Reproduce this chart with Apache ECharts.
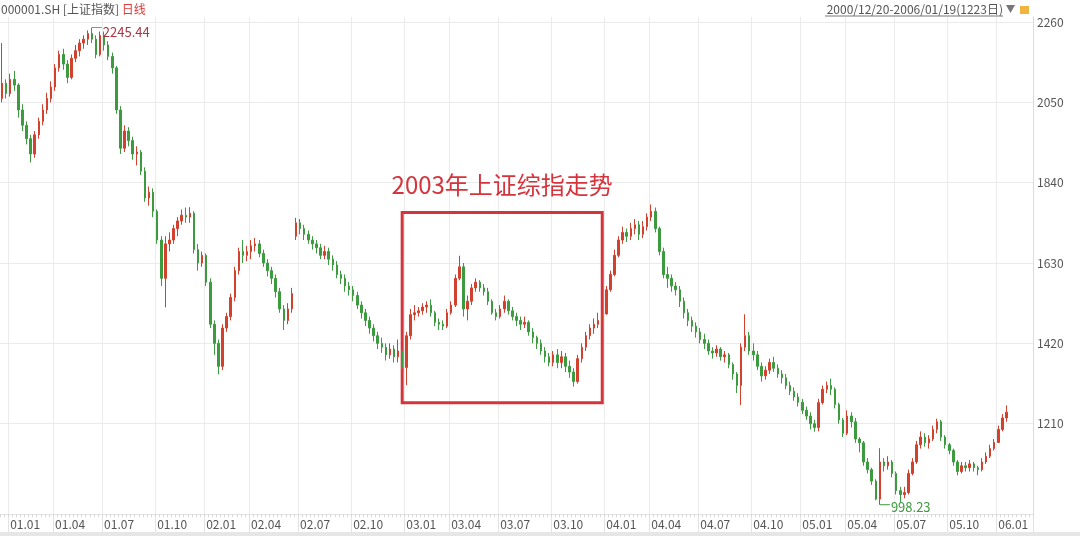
<!DOCTYPE html>
<html><head><meta charset="utf-8">
<script src="https://cdn.jsdelivr.net/npm/echarts@6/dist/echarts.min.js"></script>
<style>html,body{margin:0;padding:0;background:#fff}#c{width:1080px;height:536px}</style>
</head><body><div id="c"></div>
<script>
// Weekly candles (one row per quarter)
const dates = [
 '2000-12-20','2000-12-25',
 '2001-01-02','2001-01-08','2001-01-15','2001-02-05','2001-02-12','2001-02-19','2001-02-26','2001-03-05','2001-03-12','2001-03-19','2001-03-26',
 '2001-04-02','2001-04-09','2001-04-16','2001-04-23','2001-05-08','2001-05-14','2001-05-21','2001-05-28','2001-06-04','2001-06-11','2001-06-18','2001-06-25',
 '2001-07-02','2001-07-09','2001-07-16','2001-07-23','2001-07-30','2001-08-06','2001-08-13','2001-08-20','2001-08-27','2001-09-03','2001-09-10','2001-09-17','2001-09-24',
 '2001-10-08','2001-10-15','2001-10-22','2001-10-29','2001-11-05','2001-11-12','2001-11-19','2001-11-26','2001-12-03','2001-12-10','2001-12-17','2001-12-24',
 '2002-01-04','2002-01-07','2002-01-14','2002-01-21','2002-01-28','2002-02-04','2002-02-25','2002-03-04','2002-03-11','2002-03-18','2002-03-25',
 '2002-04-01','2002-04-08','2002-04-15','2002-04-22','2002-05-08','2002-05-13','2002-05-20','2002-05-27','2002-06-03','2002-06-10','2002-06-17','2002-06-24',
 '2002-07-01','2002-07-08','2002-07-15','2002-07-22','2002-07-29','2002-08-05','2002-08-12','2002-08-19','2002-08-26','2002-09-02','2002-09-09','2002-09-16','2002-09-23',
 '2002-10-08','2002-10-14','2002-10-21','2002-10-28','2002-11-04','2002-11-11','2002-11-18','2002-11-25','2002-12-02','2002-12-09','2002-12-16','2002-12-23','2002-12-30',
 '2003-01-02','2003-01-13','2003-01-20','2003-01-27','2003-02-10','2003-02-17','2003-02-24','2003-03-03','2003-03-10','2003-03-17','2003-03-24',
 '2003-04-01','2003-04-07','2003-04-14','2003-04-21','2003-04-28','2003-05-12','2003-05-19','2003-05-26','2003-06-02','2003-06-09','2003-06-16','2003-06-23',
 '2003-07-01','2003-07-07','2003-07-14','2003-07-21','2003-07-28','2003-08-04','2003-08-11','2003-08-18','2003-08-25','2003-09-01','2003-09-08','2003-09-15','2003-09-22',
 '2003-10-08','2003-10-13','2003-10-20','2003-10-27','2003-11-03','2003-11-10','2003-11-17','2003-11-24','2003-12-01','2003-12-08','2003-12-15','2003-12-22','2003-12-29',
 '2004-01-02','2004-01-12','2004-02-02','2004-02-09','2004-02-16','2004-02-23','2004-03-01','2004-03-08','2004-03-15','2004-03-22','2004-03-29',
 '2004-04-01','2004-04-12','2004-04-19','2004-04-26','2004-05-10','2004-05-17','2004-05-24','2004-05-31','2004-06-07','2004-06-14','2004-06-21','2004-06-28',
 '2004-07-01','2004-07-12','2004-07-19','2004-07-26','2004-08-02','2004-08-09','2004-08-16','2004-08-23','2004-08-30','2004-09-06','2004-09-13','2004-09-20','2004-09-27',
 '2004-10-08','2004-10-18','2004-10-25','2004-11-01','2004-11-08','2004-11-15','2004-11-22','2004-11-29','2004-12-06','2004-12-13','2004-12-20','2004-12-27',
 '2005-01-04','2005-01-10','2005-01-17','2005-01-24','2005-01-31','2005-02-21','2005-02-28','2005-03-07','2005-03-14','2005-03-21','2005-03-28',
 '2005-04-01','2005-04-11','2005-04-18','2005-04-25','2005-05-09','2005-05-16','2005-05-23','2005-05-30','2005-06-06','2005-06-13','2005-06-20','2005-06-27',
 '2005-07-01','2005-07-11','2005-07-18','2005-07-25','2005-08-01','2005-08-08','2005-08-15','2005-08-22','2005-08-29','2005-09-05','2005-09-12','2005-09-19','2005-09-26',
 '2005-10-10','2005-10-17','2005-10-24','2005-10-31','2005-11-07','2005-11-14','2005-11-21','2005-11-28','2005-12-05','2005-12-12','2005-12-19','2005-12-26',
 '2006-01-04','2006-01-09','2006-01-16'
];
const open = [
 2060,2100,
 2073,2110,2095,2030,1990,1955,1915,1965,2000,2030,2060,
 2090,2140,2175,2150,2115,2165,2185,2205,2215,2230,2215,2175,
 2225,2200,2170,2140,2030,1930,1975,1950,1915,1920,1870,1800,1815,
 1765,1690,1590,1680,1690,1720,1740,1755,1750,1760,1665,1630,
 1650,1580,1470,1420,1360,1460,1490,1540,1610,1660,1650,
 1660,1675,1680,1655,1630,1610,1590,1555,1510,1480,1510,1700,
 1735,1720,1705,1690,1680,1670,1650,1660,1640,1625,1600,1590,1570,
 1560,1545,1520,1500,1480,1460,1440,1420,1410,1390,1405,1385,1400,
 1357,1440,1495,1500,1505,1515,1520,1500,1475,1470,1465,
 1500,1520,1590,1620,1510,1530,1565,1580,1565,1555,1530,1500,
 1490,1510,1530,1505,1490,1480,1470,1475,1450,1435,1420,1400,1385,
 1370,1390,1370,1385,1360,1345,1320,1380,1410,1440,1460,1470,1480,
 1497,1560,1600,1650,1690,1710,1700,1720,1730,1705,1725,
 1750,1765,1720,1660,1600,1590,1570,1560,1530,1500,1480,1465,
 1450,1430,1420,1400,1395,1405,1385,1390,1365,1340,1310,1410,1440,
 1400,1390,1360,1335,1350,1370,1355,1340,1330,1310,1295,1280,
 1266,1245,1230,1210,1200,1265,1300,1310,1300,1260,1220,
 1185,1230,1215,1170,1160,1110,1090,1060,1013,1110,1100,1110,
 1080,1035,1025,1030,1080,1110,1155,1175,1160,1170,1195,1215,1175,
 1155,1140,1110,1085,1100,1095,1105,1095,1090,1110,1125,1145,
 1161,1195,1225
];
const close = [
 2100,2073,
 2110,2095,2030,1990,1955,1915,1965,2000,2030,2060,2090,
 2140,2175,2150,2115,2165,2185,2205,2215,2230,2215,2175,2225,
 2200,2170,2140,2030,1930,1975,1950,1915,1920,1870,1800,1815,1765,
 1690,1590,1680,1690,1720,1740,1755,1750,1760,1665,1630,1650,
 1580,1470,1420,1360,1460,1490,1540,1610,1660,1650,1660,
 1675,1680,1655,1630,1610,1590,1555,1510,1480,1510,1550,1735,
 1720,1705,1690,1680,1670,1650,1660,1640,1625,1600,1590,1570,1560,
 1545,1520,1500,1480,1460,1440,1420,1410,1390,1405,1385,1400,1357,
 1440,1495,1500,1505,1515,1520,1500,1475,1470,1465,1500,
 1520,1590,1620,1510,1530,1565,1580,1565,1555,1530,1500,1490,
 1510,1530,1505,1490,1480,1470,1475,1450,1435,1420,1400,1385,1370,
 1390,1370,1385,1360,1345,1320,1380,1410,1440,1460,1470,1480,1497,
 1560,1600,1650,1690,1710,1700,1720,1730,1705,1725,1750,
 1765,1720,1660,1600,1590,1570,1560,1530,1500,1480,1465,1450,
 1430,1420,1400,1395,1405,1385,1390,1365,1340,1310,1410,1440,1400,
 1390,1360,1335,1350,1370,1355,1340,1330,1310,1295,1280,1266,
 1245,1230,1210,1200,1265,1300,1310,1300,1260,1220,1185,
 1230,1215,1170,1160,1110,1090,1060,1013,1110,1100,1110,1080,
 1035,1025,1030,1080,1110,1155,1175,1160,1170,1195,1215,1175,1155,
 1140,1110,1085,1100,1095,1105,1095,1090,1110,1125,1145,1161,
 1195,1225,1240
];
const low = [
 2050,2060,
 2065,2080,2010,1975,1940,1893,1905,1955,1990,2020,2050,
 2080,2130,2135,2100,2110,2155,2170,2190,2200,2205,2165,2170,
 2185,2160,2125,2020,1915,1920,1935,1900,1885,1860,1790,1780,1750,
 1680,1570,1514,1660,1680,1700,1730,1735,1735,1655,1610,1620,
 1570,1460,1390,1339,1350,1450,1480,1530,1600,1630,1635,
 1640,1660,1645,1620,1595,1575,1540,1500,1455,1470,1500,1690,
 1705,1690,1680,1665,1655,1640,1640,1625,1610,1590,1575,1555,1545,
 1530,1510,1485,1465,1445,1425,1405,1395,1375,1380,1370,1370,1350,
 1311,1430,1480,1490,1495,1500,1490,1465,1455,1455,1460,
 1495,1515,1585,1490,1480,1520,1555,1555,1545,1520,1495,1480,
 1485,1500,1495,1480,1465,1455,1460,1440,1420,1405,1390,1370,1360,
 1360,1355,1355,1345,1330,1307,1315,1370,1400,1430,1445,1460,1470,
 1495,1555,1595,1645,1680,1685,1690,1705,1690,1695,1715,
 1740,1710,1650,1590,1565,1555,1545,1515,1485,1465,1450,1435,
 1420,1405,1390,1380,1385,1375,1370,1355,1325,1290,1259,1400,1390,
 1375,1350,1320,1325,1340,1345,1330,1315,1300,1285,1270,1255,
 1235,1220,1195,1189,1190,1260,1290,1285,1250,1210,1175,
 1180,1200,1160,1135,1100,1080,1050,1010,998.23,1085,1090,1070,
 1025,1004,1015,1025,1075,1105,1145,1150,1145,1165,1185,1165,1145,
 1130,1100,1075,1080,1085,1085,1085,1075,1085,1105,1120,1140,
 1160,1190,1215
];
const high = [
 2205,2110,
 2125,2132,2100,2045,2000,1965,1975,2010,2045,2075,2105,
 2150,2185,2190,2160,2175,2200,2215,2225,2238,2245.44,2225,2235,
 2235,2210,2180,2145,2040,1990,1985,1960,1935,1925,1880,1830,1825,
 1770,1700,1700,1710,1730,1750,1770,1775,1776,1765,1680,1660,
 1655,1590,1480,1430,1470,1500,1550,1620,1670,1690,1675,
 1690,1695,1690,1665,1640,1620,1600,1565,1520,1525,1565,1748,
 1745,1730,1715,1700,1690,1680,1675,1670,1650,1635,1610,1600,1580,
 1570,1555,1530,1510,1490,1470,1450,1435,1420,1420,1415,1430,1405,
 1450,1510,1520,1515,1525,1530,1535,1505,1485,1480,1510,
 1530,1600,1649,1630,1545,1575,1590,1585,1575,1565,1535,1510,
 1520,1545,1535,1515,1500,1490,1490,1480,1460,1440,1430,1410,1395,
 1400,1405,1400,1395,1375,1355,1390,1420,1450,1470,1485,1500,1510,
 1570,1610,1665,1700,1725,1720,1735,1745,1740,1740,1760,
 1783,1775,1725,1670,1620,1600,1580,1570,1540,1510,1490,1475,
 1460,1445,1430,1410,1415,1410,1400,1395,1370,1345,1420,1496,1450,
 1420,1400,1370,1360,1380,1385,1365,1350,1340,1320,1305,1290,
 1275,1255,1240,1220,1275,1310,1320,1328,1305,1265,1225,
 1245,1240,1225,1175,1165,1120,1095,1065,1146,1120,1125,1115,
 1085,1045,1045,1090,1120,1165,1190,1185,1180,1205,1223,1220,1180,
 1160,1145,1115,1110,1110,1115,1110,1100,1120,1135,1155,1170,
 1205,1235,1258
];
const xTickDates = ['2001-01-02','2001-04-02','2001-07-02','2001-10-08','2002-01-04','2002-04-01','2002-07-01','2002-10-08','2003-01-02','2003-04-01','2003-07-01','2003-10-08','2004-01-02','2004-04-01','2004-07-01','2004-10-08','2005-01-04','2005-04-01','2005-07-01','2005-10-10','2006-01-04'];
const xTickLabels = ['01.01','01.04','01.07','01.10','02.01','02.04','02.07','02.10','03.01','03.04','03.07','03.10','04.01','04.04','04.07','04.10','05.01','05.04','05.07','05.10','06.01'];
const yTicks = [1210, 1420, 1630, 1840, 2050, 2260];
const boxTitle = '2003年上证综指走势';
const boxStart = '2002-12-30', boxEnd = '2003-12-29';
const boxTop = 1762, boxBottom = 1265;
const headerLeft = '000001.SH [上证指数] ';
const headerPeriod = '日线';
const headerRange = '2000/12/20-2006/01/19(1223日)';

const labelMap = {};
xTickDates.forEach((d, i) => { labelMap[d] = xTickLabels[i]; });
const isQuarter = (idx, val) => labelMap[val] !== undefined;
const candles = dates.map((d, i) => [open[i], close[i], low[i], high[i]]);
const FONT = '"Noto Sans CJK SC", "Noto Sans", sans-serif';
const extraSlots = 6;

const chart = echarts.init(document.getElementById('c'), null, {renderer: 'canvas'});
chart.setOption({
  animation: false,
  backgroundColor: '#ffffff',
  textStyle: {fontFamily: FONT},
  grid: {left: 0, right: 47, top: 17, bottom: 22, containLabel: false},
  xAxis: [{
    type: 'category', data: dates, boundaryGap: true, max: dates.length - 1 + extraSlots,
    axisLine: {show: true, lineStyle: {color: '#e3e3e3'}},
    axisTick: {show: true, interval: isQuarter, length: 18, lineStyle: {color: '#e3e3e3'}},
    axisLabel: {show: true, interval: isQuarter, formatter: v => labelMap[v] || '', align: 'left',
      color: '#555', fontSize: 12, margin: 4, fontFamily: FONT},
    splitLine: {show: true, interval: isQuarter, lineStyle: {color: '#ebebeb', width: 1}}
  }, {
    type: 'category', data: dates, boundaryGap: true, max: dates.length - 1 + extraSlots,
    position: 'bottom', gridIndex: 0,
    axisLine: {show: false}, axisLabel: {show: false}, splitLine: {show: false},
    axisTick: {show: true, interval: 0, length: 3, lineStyle: {color: '#d8d8d8'}}
  }],
  yAxis: {
    type: 'value', position: 'right', min: 974, max: 2273, scale: true,
    axisLine: {show: true, lineStyle: {color: '#dcdcdc'}},
    axisTick: {show: false, customValues: yTicks},
    axisLabel: {show: true, customValues: yTicks, formatter: v => String(v), color: '#555', fontSize: 12, margin: 4, fontFamily: FONT},
    splitLine: {show: true, lineStyle: {color: '#ebebeb', width: 1}}
  },
  series: [{
    type: 'candlestick', xAxisIndex: 0, data: candles, barWidth: 2,
    itemStyle: {color: '#d2412d', color0: '#3c9b3f', borderColor: '#d2412d', borderColor0: '#3c9b3f', borderWidth: 1},
    markArea: {
      silent: true,
      itemStyle: {color: 'rgba(0,0,0,0)', borderColor: '#d5343c', borderWidth: 3},
      label: {show: true, position: 'top', distance: 14, fontSize: 24, color: '#d5343c', fontFamily: FONT, formatter: boxTitle},
      data: [[{xAxis: boxStart, yAxis: boxTop}, {xAxis: boxEnd, yAxis: boxBottom}]]
    },
    markPoint: {
      silent: true, symbol: 'rect', symbolSize: [10, 1], symbolOffset: [5, 0], animation: false,
      data: [
        {type: 'max', valueDim: 'highest', itemStyle: {color: '#5aa0ad'},
         label: {show: true, position: 'right', distance: 1, offset: [0, 5], formatter: p => String(p.value), color: '#ad3441', fontSize: 13, fontFamily: FONT}},
        {type: 'min', valueDim: 'lowest', itemStyle: {color: '#3d9a3d'},
         label: {show: true, position: 'right', distance: 1, offset: [0, 2], formatter: p => String(p.value), color: '#3d9a3d', fontSize: 13, fontFamily: FONT}}
      ]
    }
  }],
  graphic: [
    {type: 'text', left: 1, top: 3, style: {
      text: '{a|' + headerLeft + '}{b|' + headerPeriod + '}',
      rich: {a: {fill: '#555', fontSize: 12, fontFamily: FONT}, b: {fill: '#e03a3a', fontSize: 12, fontFamily: FONT}}
    }},
    {type: 'text', right: 77, top: 3, style: {text: headerRange, fill: '#555', fontSize: 12, fontFamily: FONT}},
    {type: 'line', shape: {x1: 825, y1: 16, x2: 1003, y2: 16}, style: {stroke: '#777', lineWidth: 1}},
    {type: 'polygon', shape: {points: [[1006, 5], [1015, 5], [1010.5, 13]]}, style: {fill: '#777'}},
    {type: 'rect', shape: {x: 1020, y: 6, width: 9, height: 8}, style: {fill: '#f0b43c'}},
    {type: 'rect', shape: {x: 0, y: 532, width: 1080, height: 4}, style: {fill: '#e6e6e6'}}
  ]
});
</script></body></html>
